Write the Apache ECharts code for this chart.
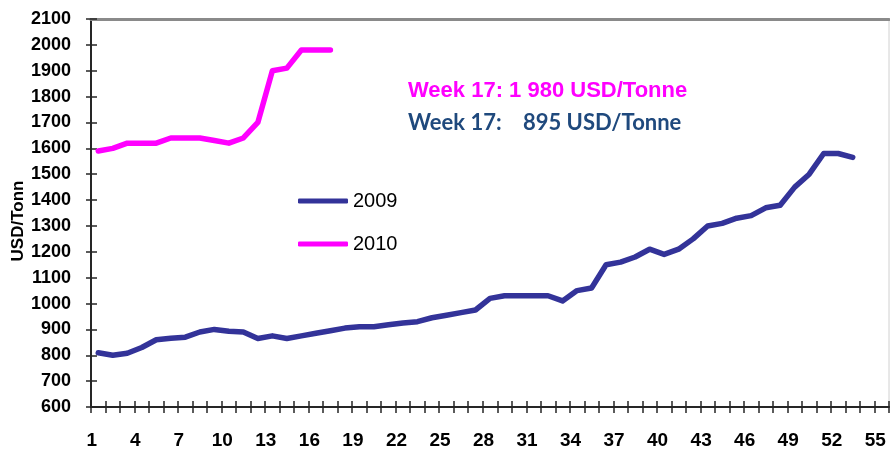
<!DOCTYPE html>
<html>
<head>
<meta charset="utf-8">
<script src="https://cdn.jsdelivr.net/npm/echarts@6/dist/echarts.min.js"></script>
<style>
  html, body { margin: 0; padding: 0; background: #fff; }
  #chart { width: 890px; height: 454px; }
</style>
</head>
<body>
<div id="chart"></div>
<script>
var weeks = ['1','2','3','4','5','6','7','8','9','10','11','12','13','14','15','16','17','18','19','20',
    '21','22','23','24','25','26','27','28','29','30','31','32','33','34','35','36','37','38','39','40',
    '41','42','43','44','45','46','47','48','49','50','51','52','53','54','55'];

var price2009 = [810, 800, 808, 830, 860, 866, 870, 890, 900, 893, 890, 865, 875, 865, 875, 885, 895, 905,
    910, 910, 918, 925, 930, 945, 955, 965, 975, 1020, 1030, 1030, 1030, 1030, 1010, 1050, 1060, 1150,
    1160, 1180, 1210, 1190, 1210, 1250, 1300, 1310, 1330, 1340, 1370, 1380, 1450, 1500, 1580, 1580, 1565];

var price2010 = [1590, 1600, 1620, 1620, 1620, 1640, 1640, 1640, 1630, 1620, 1640, 1700, 1900, 1910, 1980, 1980, 1980];

var note2010 = 'Week 17: 1 980 USD/Tonne';
var note2009 = 'Week 17:    895 USD/Tonne';

var chart = echarts.init(document.getElementById('chart'));

var axisDark = '#262626';

chart.setOption({
    backgroundColor: '#fff',
    animation: false,
    title: [{
        text: note2010,
        left: 408,
        top: 80,
        padding: 0,
        textStyle: { color: '#FF00FF', fontFamily: 'Liberation Sans', fontWeight: 'bold', fontSize: 22 }
    }, {
        text: note2009,
        left: 408,
        top: 112,
        padding: 0,
        textStyle: { color: '#1F497D', fontFamily: 'Lato', fontWeight: 'bold', fontSize: 22 }
    }],
    legend: {
        orient: 'vertical',
        left: 293,
        top: 186,
        icon: 'roundRect',
        itemWidth: 50,
        itemHeight: 5,
        itemGap: 23,
        data: ['2009', '2010'],
        textStyle: { color: '#000', fontFamily: 'Liberation Sans', fontSize: 20, lineHeight: 20 }
    },
    grid: {
        left: 91,
        right: 1,
        top: 19,
        bottom: 47,
        outerBoundsMode: 'none',
        show: true,
        borderColor: '#d0d0d0',
        borderWidth: 1
    },
    xAxis: [{
        type: 'category',
        data: weeks,
        position: 'bottom',
        boundaryGap: true,
        axisLine: { show: true, onZero: false, lineStyle: { color: axisDark, width: 2 } },
        axisTick: { show: true, interval: 0, length: 6, lineStyle: { color: axisDark, width: 1.5 } },
        axisLabel: {
            interval: 2,
            margin: 24,
            padding: [0, 13, 0, 0],
            color: '#000',
            fontFamily: 'Liberation Sans',
            fontWeight: 'bold',
            fontSize: 19
        },
        splitLine: { show: false }
    }, {
        type: 'category',
        data: weeks,
        position: 'bottom',
        boundaryGap: true,
        axisLine: { show: false, onZero: false },
        axisTick: { show: true, interval: 0, inside: true, length: 6, lineStyle: { color: axisDark, width: 1.5 } },
        axisLabel: { show: false },
        splitLine: { show: false }
    }, {
        type: 'category',
        data: weeks,
        position: 'top',
        axisLine: { show: true, onZero: false, lineStyle: { color: '#8a8a8a', width: 3 } },
        axisTick: { show: false },
        axisLabel: { show: false },
        splitLine: { show: false }
    }],
    yAxis: [{
        type: 'value',
        min: 600,
        max: 2100,
        interval: 100,
        position: 'left',
        name: 'USD/Tonn',
        nameLocation: 'middle',
        nameRotate: 90,
        nameGap: 64,
        nameMoveOverlap: false,
        nameTextStyle: { color: '#000', fontFamily: 'Liberation Sans', fontWeight: 'bold', fontSize: 17, padding: [0, 16, 0, 0] },
        axisLine: { show: true, onZero: false, lineStyle: { color: axisDark, width: 2 } },
        axisTick: { show: true, length: 5, lineStyle: { color: axisDark, width: 1.5 } },
        axisLabel: {
            margin: 20,
            color: '#000',
            fontFamily: 'Liberation Sans',
            fontWeight: 'bold',
            fontSize: 18,
            formatter: function (v) { return String(v); }
        },
        splitLine: { show: false }
    }, {
        type: 'value',
        min: 600,
        max: 2100,
        interval: 100,
        position: 'left',
        axisLine: { show: false, onZero: false },
        axisTick: { show: true, inside: true, length: 6, lineStyle: { color: axisDark, width: 1.5 } },
        axisLabel: { show: false },
        splitLine: { show: false }
    }],
    series: [{
        name: '2009',
        type: 'line',
        data: price2009,
        symbol: 'none',
        color: '#333399',
        lineStyle: { width: 5.5, color: '#333399', cap: 'round', join: 'round' }
    }, {
        name: '2010',
        type: 'line',
        data: price2010,
        symbol: 'none',
        color: '#FF00FF',
        lineStyle: { width: 5.5, color: '#FF00FF', cap: 'round', join: 'round' }
    }]
});
</script>
</body>
</html>
